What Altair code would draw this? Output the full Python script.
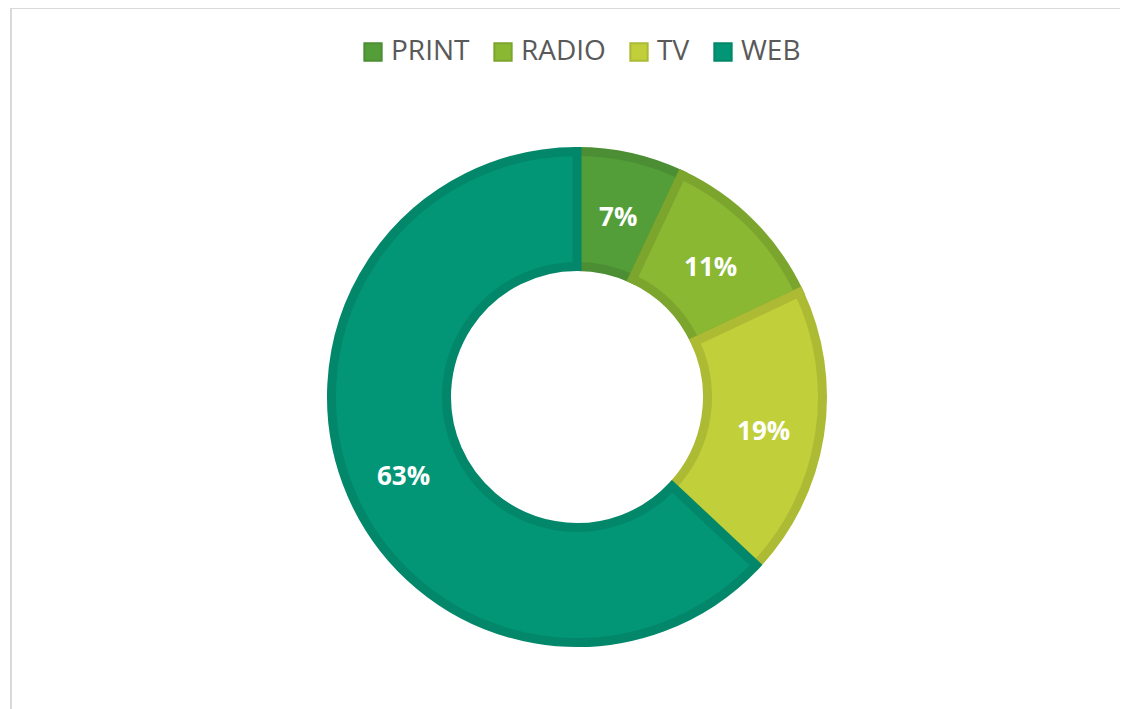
import altair as alt
import pandas as pd

categories = ["PRINT", "RADIO", "TV", "WEB"]
shares = [7, 11, 19, 63]
labels = ["7%", "11%", "19%", "63%"]
fill_colors = ["#549E39", "#8AB833", "#C0CF3A", "#029676"]
stroke_colors = ["#4B8E33", "#7CA52E", "#ADBA34", "#02876A"]

df = pd.DataFrame({
    "media": categories,
    "share": shares,
    "label": labels,
    "idx": list(range(len(categories))),
})

FONT = "Open Sans"

legend_cfg = dict(
    orient="none", legendX=282, legendY=-59, direction="horizontal", title=None,
    symbolType="square", symbolSize=300, symbolStrokeWidth=2,
    labelFont=FONT, labelFontSize=28, labelColor="#595959",
    labelOffset=4, columnPadding=19, padding=0,
)

base = alt.Chart(df)
theta = alt.Theta("share:Q", stack=True)
order = alt.Order("idx:Q", sort="ascending")

arcs = base.mark_arc(outerRadius=245.5, innerRadius=130.5, strokeWidth=9, strokeJoin="miter").encode(
    theta=theta,
    order=order,
    fill=alt.Fill("media:N", scale=alt.Scale(domain=categories, range=fill_colors),
                  legend=alt.Legend(**legend_cfg)),
    stroke=alt.Stroke("media:N", scale=alt.Scale(domain=categories, range=stroke_colors),
                      legend=alt.Legend(**legend_cfg)),
)

texts = base.mark_text(radius=189, font=FONT, fontSize=26, fontWeight="bold", dy=5,
                       color="white", align="center", baseline="middle").encode(
    theta=theta,
    order=order,
    text="label:N",
)

one = alt.Chart(pd.DataFrame({"a": [0]}))
left_line = one.mark_rule(color="#d9d9d9", strokeWidth=2).encode(
    x=alt.value(-66), y=alt.value(-89), y2=alt.value(612))
top_line = one.mark_rule(color="#d9d9d9", strokeWidth=1).encode(
    x=alt.value(-67), x2=alt.value(1051), y=alt.value(-88.5))

chart = alt.layer(left_line, top_line, arcs, texts).properties(
    width=1000, height=600,
    padding={"left": 69, "top": 89, "right": 43, "bottom": 12},
    autosize=alt.AutoSizeParams(type="none"),
).configure_view(stroke=None)

chart.save("out.html", embed_options={"renderer": "svg", "actions": False})
